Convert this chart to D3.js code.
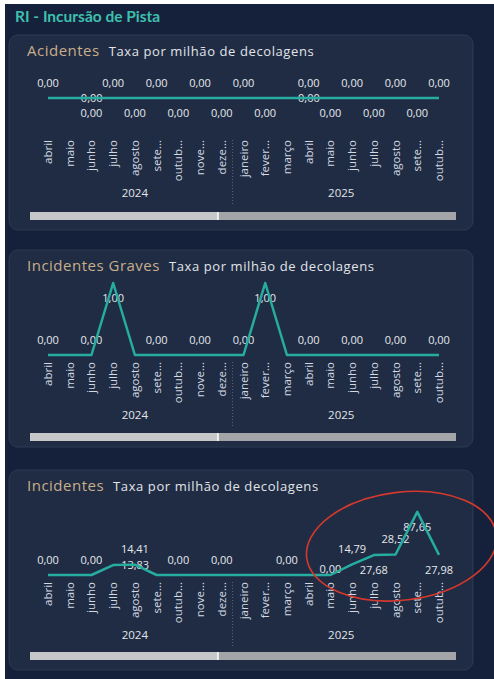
<!DOCTYPE html>
<html>
<head>
<meta charset="utf-8">
<script src="https://cdn.jsdelivr.net/npm/d3@7"></script>
<style>
  html, body { margin: 0; padding: 0; background: #ffffff; }
  svg { display: block; }
</style>
</head>
<body>
<div id="chart"></div>
<script>
// meses exibidos no eixo (abril/2024 a outubro/2025)
const months = ["abril", "maio", "junho", "julho", "agosto", "sete...", "outub...", "nove...", "deze...",
  "janeiro", "fever...", "março", "abril", "maio", "junho", "julho", "agosto", "sete...", "outub..."]
const years = ["2024", "2025"]
const yearStart = [0, 9] // índice do primeiro mês de cada ano

// taxa por milhão de decolagens
const acidentes = [0, 0, 0, 0, 0, 0, 0, 0, 0, 0, 0, 0, 0, 0, 0, 0, 0, 0, 0]
const incidentesGraves = [0, 0, 0, 1, 0, 0, 0, 0, 0, 0, 1, 0, 0, 0, 0, 0, 0, 0, 0]
const incidentes = [0, 0, 0, 13.83, 14.41, 0, 0, 0, 0, 0, 0, 0, 0, 0, 14.79, 27.68, 28.52, 87.65, 27.98]

const W = 494, H = 679
const svg = d3.select('#chart').append('svg').attr('width', W).attr('height', H)

// fundo escuro (foto com borda branca)
svg.append('rect').attr('x', 5).attr('y', 4).attr('width', W - 5).attr('height', H - 4).attr('fill', '#15213a')

svg.append('text')
  .attr('x', 15).attr('y', 22)
  .attr('font-family', 'Lato, "Open Sans", sans-serif')
  .attr('font-weight', 'bold')
  .attr('font-size', 15.5)
  .attr('fill', '#3fbfae')
  .text('RI - Incursão de Pista')

const x = d3.scalePoint().domain(d3.range(months.length)).range([48, 439])
const fmt = v => d3.format('.2f')(v).replace('.', ',')

// a: acima, b: abaixo, o: à direita na linha, c: centrado no ponto, -: oculto
const panels = [
  { name: 'Acidentes', data: acidentes, top: 35, height: 195, y0: 63, axisTop: 105, yearY: 162, barY: 177,
    domain: [0, 1], pos: 'aobababababoabababa' },
  { name: 'Incidentes Graves', data: incidentesGraves, top: 250, height: 197, y0: 105, axisTop: 112, yearY: 169, barY: 183,
    domain: [0, 1], pos: 'a-ab-a-a-ab-a-a-a-a' },
  { name: 'Incidentes', data: incidentes, top: 470, height: 200, y0: 105, axisTop: 112, yearY: 169, barY: 182,
    domain: [0, 100], pos: 'a-aoa-a-a--a-cababb' }
]

panels.forEach(p => drawPanel(p))

function drawPanel(p) {
  const T = p.top
  const g = svg.append('g')

  g.append('rect')
    .attr('x', 9).attr('y', T).attr('width', 464).attr('height', p.height)
    .attr('rx', 9)
    .attr('fill', '#1f2c44')
    .attr('stroke', '#2c3b55').attr('stroke-width', 1)

  const title = g.append('text')
    .attr('x', 27).attr('y', T + 21)
    .attr('font-family', '"Open Sans", sans-serif')
  title.append('tspan')
    .attr('font-size', 15).attr('fill', '#c9ae8a').attr('letter-spacing', 0.5)
    .text(p.name)
  title.append('tspan')
    .attr('dx', 9)
    .attr('font-size', 13).attr('fill', '#e2e4e8').attr('letter-spacing', 0.6)
    .text('Taxa por milhão de decolagens')

  const y = d3.scaleLinear().domain(p.domain).range([T + p.y0, T + p.y0 - 72])

  // separador de anos
  const sepX = (x(yearStart[1] - 1) + x(yearStart[1])) / 2
  g.append('line')
    .attr('x1', sepX).attr('x2', sepX)
    .attr('y1', T + p.axisTop).attr('y2', T + p.yearY + 8)
    .attr('stroke', '#5a6880').attr('stroke-width', 1).attr('stroke-dasharray', '1,2')

  // rótulos dos meses
  g.selectAll('.mes')
    .data(months)
    .join('text')
    .attr('transform', (d, i) => `translate(${x(i)},${T + p.axisTop}) rotate(-90)`)
    .attr('text-anchor', 'end')
    .attr('dy', '0.35em')
    .attr('font-family', '"Open Sans", sans-serif')
    .attr('font-size', 11.5)
    .attr('fill', '#d4d9e1')
    .text(d => d)

  // anos
  years.forEach((yr, k) => {
    const a = yearStart[k]
    const b = k + 1 < yearStart.length ? yearStart[k + 1] - 1 : months.length - 1
    g.append('text')
      .attr('x', (x(a) + x(b)) / 2).attr('y', T + p.yearY)
      .attr('text-anchor', 'middle')
      .attr('font-family', '"Open Sans", sans-serif')
      .attr('font-size', 11.5)
      .attr('fill', '#e2e4e8')
      .text(yr)
  })

  // rótulos de dados
  p.data.forEach((v, i) => {
    const code = p.pos[i]
    if (code === '-' || !code) return
    let lx = x(i), ly = y(v)
    if (code === 'a') ly -= 15
    if (code === 'b') ly += 15
    if (code === 'o') lx += 22
    if (code === 'c') ly -= 6
    g.append('text')
      .attr('x', lx).attr('y', ly)
      .attr('text-anchor', 'middle')
      .attr('dy', '0.35em')
      .attr('font-family', '"Open Sans", sans-serif')
      .attr('font-size', 11)
      .attr('fill', '#e6e8ec')
      .text(fmt(v))
  })

  // linha da série
  g.append('path')
    .datum(p.data)
    .attr('fill', 'none')
    .attr('stroke', '#27ad9f')
    .attr('stroke-width', 2.5)
    .attr('stroke-linejoin', 'round')
    .attr('d', d3.line().x((d, i) => x(i)).y(d => y(d)))

  // barra de rolagem
  const bx0 = 30, bx1 = 456, mid = 218
  g.append('rect').attr('x', bx0).attr('y', T + p.barY).attr('width', bx1 - bx0).attr('height', 8).attr('fill', '#a3a5a8')
  g.append('rect').attr('x', bx0).attr('y', T + p.barY).attr('width', mid - bx0).attr('height', 8).attr('fill', '#c6c7c9')
  g.append('line').attr('x1', mid).attr('x2', mid).attr('y1', T + p.barY).attr('y2', T + p.barY + 8)
    .attr('stroke', '#ffffff').attr('stroke-width', 1.5)

  p.y = y
}

// marcação em vermelho sobre o último painel
const p3 = panels[2]
const cx = x(16) + 6, cy = p3.y(40)
svg.append('ellipse')
  .attr('cx', cx).attr('cy', cy)
  .attr('rx', (x(18) - x(13)) * 0.88).attr('ry', 54)
  .attr('transform', `rotate(-7,${cx},${cy})`)
  .attr('fill', 'none')
  .attr('stroke', '#d6392c')
  .attr('stroke-width', 1.6)
</script>
</body>
</html>
